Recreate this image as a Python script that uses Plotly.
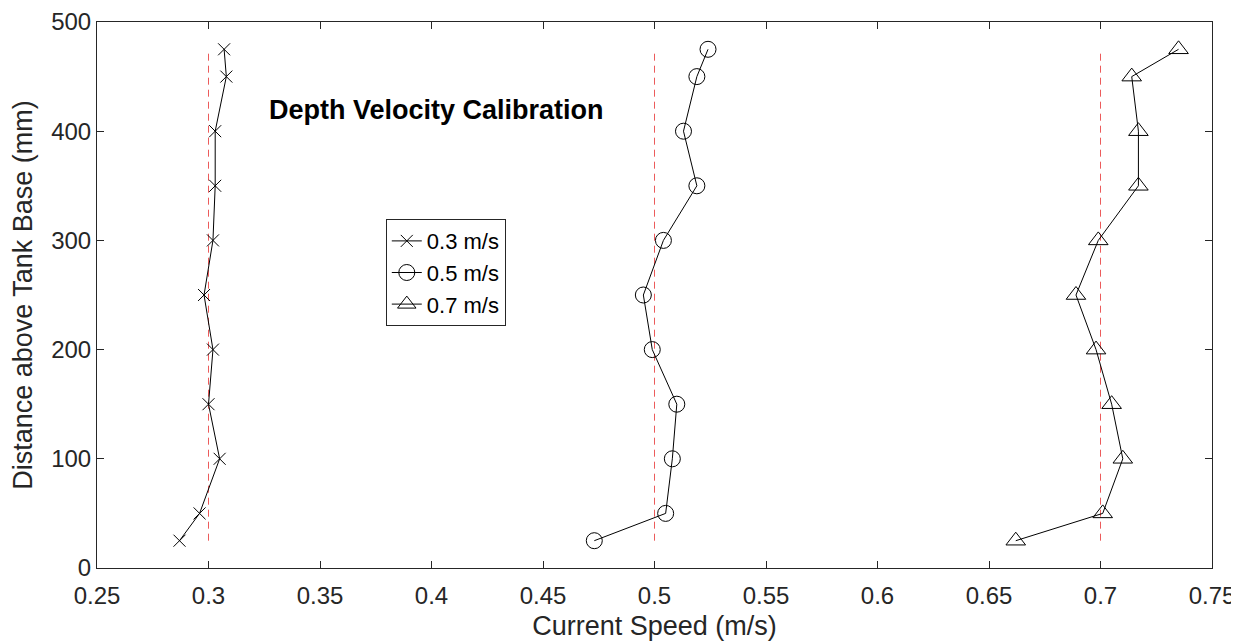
import plotly.graph_objects as go

# Depth of each measurement point (mm above tank base)
depth = [25, 50, 100, 150, 200, 250, 300, 350, 400, 450, 475]

# Measured current speed (m/s) at each depth, per target speed
speed_03 = [0.287, 0.296, 0.305, 0.300, 0.302, 0.298, 0.302, 0.303, 0.303, 0.308, 0.307]
speed_05 = [0.473, 0.505, 0.508, 0.510, 0.499, 0.495, 0.504, 0.519, 0.513, 0.519, 0.524]
speed_07 = [0.662, 0.701, 0.710, 0.705, 0.698, 0.689, 0.699, 0.717, 0.717, 0.714, 0.735]

target_speeds = [0.3, 0.5, 0.7]
target_depth = [25, 472]
series_names = ["0.3 m/s", "0.5 m/s", "0.7 m/s"]

axis_col = '#262626'
font_family = 'Liberation Sans, Arial, sans-serif'

fig = go.Figure()

# Red dashed reference lines at each target speed
for t in target_speeds:
    fig.add_trace(go.Scatter(x=[t, t], y=target_depth, mode='lines',
                             line=dict(color='#ec5b5b', width=1, dash='7px,5px'),
                             showlegend=False, hoverinfo='skip'))

# Measured profiles
symbols = ['x-thin-open', 'circle-open', 'triangle-up-open']
sizes = [12, 16, 17]
for vals, name, sym, sz in zip([speed_03, speed_05, speed_07], series_names, symbols, sizes):
    fig.add_trace(go.Scatter(x=vals, y=depth, mode='lines+markers', name=name,
                             line=dict(color='black', width=1),
                             marker=dict(symbol=sym, size=sz, color='black',
                                         line=dict(color='black', width=1))))

fig.add_annotation(text="<b>Depth Velocity Calibration</b>", xref='paper', yref='paper',
                   x=0.3045, y=0.839, xanchor='center', yanchor='middle', showarrow=False,
                   font=dict(size=27, color='black', family=font_family))

fig.update_xaxes(range=[0.25, 0.75], dtick=0.05, tickformat='~g',
                 showgrid=False, zeroline=False, automargin=False,
                 showline=True, linecolor=axis_col, linewidth=1, mirror='ticks',
                 ticks='inside', ticklen=7, tickcolor=axis_col, ticklabelstandoff=6,
                 tickfont=dict(size=24, color=axis_col),
                 title=dict(text='Current Speed (m/s)', font=dict(size=27, color=axis_col), standoff=10))
fig.update_yaxes(range=[0, 500], dtick=100,
                 showgrid=False, zeroline=False, automargin=False,
                 showline=True, linecolor=axis_col, linewidth=1, mirror='ticks',
                 ticks='inside', ticklen=7, tickcolor=axis_col,
                 tickfont=dict(size=24, color=axis_col),
                 title=dict(text='Distance above Tank Base (mm)', font=dict(size=27, color=axis_col), standoff=11))

# The page adds an 8px body margin, so the figure is sized and offset to land the plot area in place
fig.update_layout(
    width=1231, height=633,
    margin=dict(l=89, r=27, t=14, b=73),
    plot_bgcolor='white', paper_bgcolor='white',
    font=dict(family=font_family, color=axis_col),
    legend=dict(x=0.259, y=0.639, xanchor='left', yanchor='top',
                bgcolor='white', bordercolor=axis_col, borderwidth=1,
                font=dict(size=22, color='black'), itemwidth=30),
)

fig.write_html("out.html")
